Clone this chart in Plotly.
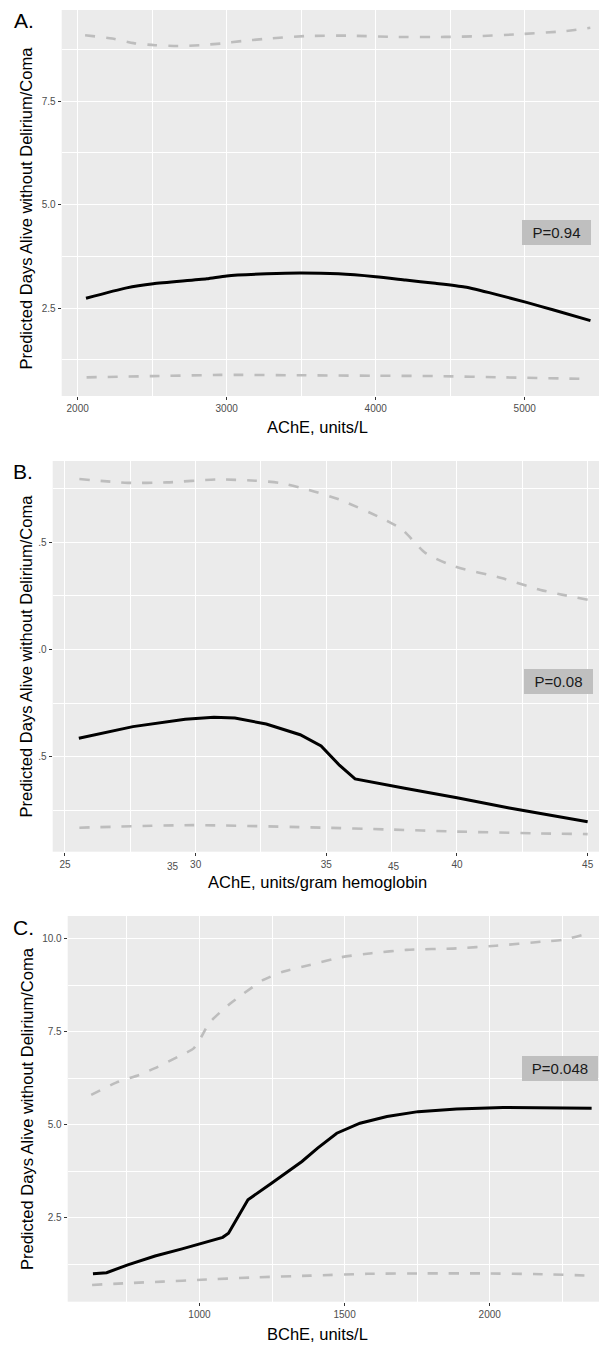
import plotly.graph_objects as go

# ---------------- data ----------------
# Panel A: AChE, units/L
a_upper_x = [2050, 2232, 2375, 2518, 2673, 2817, 2960, 3103, 3246, 3531, 3817, 4116, 4466, 4700, 4986, 5272, 5440]
a_upper_y = [9.09, 9.01, 8.90, 8.85, 8.83, 8.85, 8.89, 8.95, 9.00, 9.07, 9.08, 9.05, 9.05, 9.07, 9.12, 9.19, 9.27]
a_fit_x = [2056, 2329, 2507, 2866, 3000, 3268, 3492, 3750, 4000, 4200, 4400, 4597, 4800, 5012, 5200, 5441]
a_fit_y = [2.74, 2.99, 3.09, 3.21, 3.28, 3.33, 3.35, 3.33, 3.26, 3.18, 3.10, 3.01, 2.84, 2.64, 2.45, 2.20]
a_lower_x = [2060, 2500, 2960, 3103, 3500, 3973, 4415, 4856, 5441]
a_lower_y = [0.83, 0.86, 0.89, 0.89, 0.88, 0.87, 0.86, 0.83, 0.79]

# Panel B: AChE, units/gram hemoglobin
b_upper_x = [25.55, 27.4, 28.9, 30.8, 32.3, 33.2, 34.3, 35.5, 37.1, 37.9, 38.8, 39.9, 41.7, 43.2, 45.0]
b_upper_y = [8.98, 8.89, 8.90, 8.97, 8.94, 8.89, 8.73, 8.50, 8.07, 7.80, 7.25, 6.94, 6.67, 6.39, 6.16]
b_fit_x = [25.53, 27.6, 29.6, 30.7, 31.5, 32.7, 34.0, 34.8, 35.5, 36.1, 38.0, 40.0, 42.0, 44.0, 45.0]
b_fit_y = [2.93, 3.20, 3.37, 3.42, 3.40, 3.26, 3.01, 2.75, 2.30, 1.98, 1.76, 1.54, 1.30, 1.08, 0.98]
b_lower_x = [25.55, 29.9, 34.9, 37.3, 40.0, 42.9, 45.0]
b_lower_y = [0.84, 0.90, 0.84, 0.80, 0.75, 0.71, 0.69]

# Panel C: BChE, units/L
c_upper_x = [627, 713, 793, 847, 927, 980, 1007, 1033, 1100, 1153, 1220, 1287, 1380, 1487, 1593, 1713, 1886, 2021, 2180, 2253, 2320]
c_upper_y = [5.80, 6.13, 6.34, 6.52, 6.83, 7.05, 7.37, 7.73, 8.22, 8.53, 8.89, 9.11, 9.29, 9.50, 9.61, 9.70, 9.74, 9.81, 9.92, 9.97, 10.10]
c_fit_x = [633, 680, 753, 847, 940, 1000, 1080, 1100, 1167, 1247, 1353, 1407, 1473, 1553, 1646, 1753, 1886, 2046, 2351]
c_fit_y = [0.99, 1.02, 1.23, 1.47, 1.66, 1.79, 1.97, 2.08, 2.98, 3.42, 4.01, 4.37, 4.77, 5.04, 5.22, 5.35, 5.42, 5.46, 5.44]
c_lower_x = [630, 753, 873, 1007, 1180, 1380, 1580, 1780, 1980, 2180, 2347]
c_lower_y = [0.69, 0.74, 0.78, 0.83, 0.89, 0.94, 0.99, 1.00, 1.00, 0.98, 0.94]

p_labels = ["P=0.94", "P=0.08", "P=0.048"]
panel_labels = ["A.", "B.", "C."]
x_titles = ["AChE, units/L", "AChE, units/gram hemoglobin", "BChE, units/L"]
y_title = "Predicted Days Alive without Delirium/Coma"
b_ytick_vals = [2.5, 5.0, 7.5]
b_ytick_text = [".5", ".0", ".5"]
b_extra_tick_x = [29.12, 37.6]
b_extra_tick_text = ["35", "45"]

# ---------------- figure ----------------
# the page body has an 8px margin, so the figure is drawn 8px in from the top-left
OFF = 8
W, H = 607 - OFF, 1346 - OFF
FONT = "Liberation Sans, Arial, sans-serif"
fig = go.Figure()

def py(p):
    return 1 - (p - OFF) / H

def px(p):
    return (p - OFF) / W

dash_style = dict(color="#bdbdbd", width=2.6, dash="10px,11px", shape="spline", smoothing=0.6)
solid_smooth = dict(color="#000000", width=3, shape="spline", smoothing=0.6)
solid_kink = dict(color="#000000", width=3, shape="linear")

panels = [
    ("x", "y", a_upper_x, a_upper_y, a_fit_x, a_fit_y, a_lower_x, a_lower_y, solid_smooth),
    ("x2", "y2", b_upper_x, b_upper_y, b_fit_x, b_fit_y, b_lower_x, b_lower_y, solid_kink),
    ("x3", "y3", c_upper_x, c_upper_y, c_fit_x, c_fit_y, c_lower_x, c_lower_y, solid_kink),
]
for xa, ya, ux, uy, fx, fy, lx, ly, sst in panels:
    fig.add_trace(go.Scatter(x=ux, y=uy, mode="lines", line=dash_style, xaxis=xa, yaxis=ya, showlegend=False))
    fig.add_trace(go.Scatter(x=lx, y=ly, mode="lines", line=dash_style, xaxis=xa, yaxis=ya, showlegend=False))
    fig.add_trace(go.Scatter(x=fx, y=fy, mode="lines", line=sst, xaxis=xa, yaxis=ya, showlegend=False))

tickfont = dict(family=FONT, size=10, color="#4d4d4d")
common_axis = dict(
    showgrid=True, gridcolor="#ffffff", gridwidth=1.2, zeroline=False, showline=False,
    ticks="outside", ticklen=3, tickwidth=1, tickcolor="#333333", tickfont=tickfont,
)
minor_y = dict(tickvals=[1.25, 3.75, 6.25, 8.75], showgrid=True, gridcolor="#ffffff", gridwidth=0.6, ticks="")

fig.update_layout(
    width=W, height=H,
    margin=dict(l=0, r=0, t=0, b=0),
    paper_bgcolor="#ffffff",
    plot_bgcolor="#ebebeb",
    showlegend=False,
    xaxis=dict(domain=[px(61.7), 1], range=[1893, 5552], tickvals=[2000, 3000, 4000, 5000],
               minor=dict(tickvals=[2500, 3500, 4500, 5500], showgrid=True, gridcolor="#ffffff", gridwidth=0.6, ticks=""),
               anchor="y", **common_axis),
    yaxis=dict(domain=[py(396), py(10)], range=[0.38, 9.70], tickvals=[2.5, 5.0, 7.5], ticktext=["2.5", "5.0", "7.5"],
               minor=minor_y, anchor="x", **common_axis),
    xaxis2=dict(domain=[px(52.7), 1], range=[24.53, 45.74], tickvals=[25, 30, 35, 40, 45],
                minor=dict(tickvals=[27.5, 32.5, 37.5, 42.5], showgrid=True, gridcolor="#ffffff", gridwidth=0.6, ticks=""),
                anchor="y2", **common_axis),
    yaxis2=dict(domain=[py(851.7), py(461)], range=[0.28, 9.40], tickvals=b_ytick_vals, ticktext=b_ytick_text,
                minor=minor_y, anchor="x2", **common_axis),
    xaxis3=dict(domain=[px(67.7), 1], range=[546, 2404], tickvals=[1000, 1500, 2000],
                minor=dict(tickvals=[750, 1250, 1750, 2250], showgrid=True, gridcolor="#ffffff", gridwidth=0.6, ticks=""),
                anchor="y3", **common_axis),
    yaxis3=dict(domain=[py(1301.7), py(916)], range=[0.24, 10.61], tickvals=[2.5, 5.0, 7.5, 10.0],
                ticktext=["2.5", "5.0", "7.5", "10.0"], minor=minor_y, anchor="x3", **common_axis),
)

annotations = []
# P-value labels (in data coordinates)
p_pos = [("x", "y", 5210, 4.33), ("x2", "y2", 43.89, 4.25), ("x3", "y3", 2242, 6.50)]
p_w = [69, 69, 76]
for (xr, yr, xv, yv), txt, w in zip(p_pos, p_labels, p_w):
    annotations.append(dict(x=xv, y=yv, xref=xr, yref=yr, text=txt, showarrow=False,
                            font=dict(family=FONT, size=15, color="#1a1a1a"),
                            bgcolor="#bfbfbf", borderpad=0, borderwidth=0, width=w, height=25,
                            xanchor="center", yanchor="middle"))

# panel letters
for lbl, (xp, ypix) in zip(panel_labels, [(24, 21), (23, 472), (23, 927)]):
    annotations.append(dict(x=px(xp), y=py(ypix), xref="paper", yref="paper", text=lbl, showarrow=False,
                            font=dict(family=FONT, size=21, color="#000000"), xanchor="center", yanchor="middle"))

# x axis titles
for t, ypix in zip(x_titles, [427, 882, 1334]):
    annotations.append(dict(x=px(317), y=py(ypix), xref="paper", yref="paper", text=t, showarrow=False,
                            font=dict(family=FONT, size=16.5, color="#000000"), xanchor="center", yanchor="middle"))

# y axis titles
for xp, ypix in [(25.5, 208), (25.5, 656), (27, 1109)]:
    annotations.append(dict(x=px(xp), y=py(ypix), xref="paper", yref="paper", text=y_title, textangle=-90,
                            showarrow=False, font=dict(family=FONT, size=16.5, color="#000000"),
                            xanchor="center", yanchor="middle"))

# stray tick labels in panel B
for xv, t in zip(b_extra_tick_x, b_extra_tick_text):
    annotations.append(dict(x=xv, y=py(866.5), xref="x2", yref="paper", text=t, showarrow=False,
                            font=tickfont, xanchor="center", yanchor="middle"))

fig.update_layout(annotations=annotations)
fig.write_html("out.html")
